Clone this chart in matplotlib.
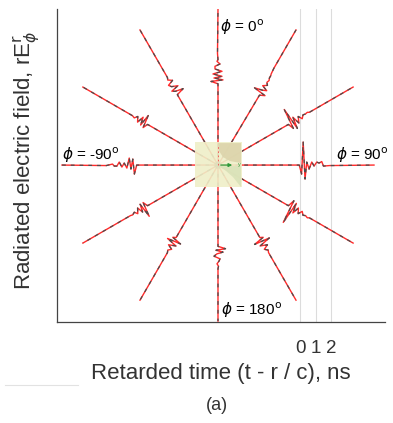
import numpy as np
import matplotlib.pyplot as plt
from matplotlib.patches import Rectangle, Polygon
from matplotlib.lines import Line2D

plt.rcParams['font.family'] = ['Liberation Sans', 'DejaVu Sans']
plt.rcParams['mathtext.fontset'] = 'dejavusans'

# retarded time knots (ns) shared by every ray, star centre sits at t = -5.26
t_knots = [-5.26, -0.05, 0.1, 0.2, 0.32, 0.43, 0.58, 0.75, 0.9, 1.07, 1.22, 1.39, 1.5, 1.9, 4.74]

# field amplitude (a.u.) at each knot, one list per observation angle phi
wave_phi0 = [0, 0, 7, -5, 4, -4, 5, -4, 3, 3, -2, 1, 0, 0.5, 0]
wave_phi30 = [0, -1, -6, 7, -1, -5, 1, -3, -1, -2, -1, -1, -0.5, 0, 0]
wave_phi60 = [0, 0, -6, 15, -8, 4, -4, 2, -2, 1, 0.5, 1, 0, 0, 0]
wave_phi90 = [0, 0, -9, 23, -14, 3, -4, 3, -1, 3, 2, 3.5, -1, -0.5, 0]
wave_phi120 = [0, 0, 7, -17, 6, -4, 3, -2, 2, -1, 0, -1, 0, 0, 0]
wave_phi150 = [0, 0, 0, 3, -8, 8, -4, 3, -2, 1, 0, 0, 0, 0, 0]
wave_phi180 = [0, 0, 7.5, -2, 5, -1, -4, 2, 1, -1, 0.5, 0, 0, 0, 0]
wave_phim150 = [0, 0, 0, -3, 7, -7, 4, -3, 2, -1, 0, 0, 0, 0, 0]
wave_phim120 = [0, 0, -5, 10, -5, 3, -3, 2, -1, 0.5, 0, 0, 0, 0, 0]
wave_phim90 = [0, 0, 9, -6, 4, -7, 3, -2, 2, -3, 1, 1, -1, 0.5, 0]
wave_phim60 = [0, 0, 5, -8, 4, -4, 3, -2, 1, 0, 0, 0, 0, 0, 0]
wave_phim30 = [0, 0, -8, 0, 3, -5, 1, 3, -3, 1, 0, 0, 0, 0, 0]

phis = [0, 30, 60, 90, 120, 150, 180, -150, -120, -90, -60, -30]
waves = [wave_phi0, wave_phi30, wave_phi60, wave_phi90, wave_phi120, wave_phi150,
         wave_phi180, wave_phim150, wave_phim120, wave_phim90, wave_phim60, wave_phim30]

time_ticks = [0, 1, 2]
phi_labels = ['0', '-90', '90', '180']

W, H = 393, 423
PX = 15.6          # pixels per ns
tc = -5.26         # centre of star
amp_scale = 1 / PX

fig = plt.figure(figsize=(W / 100, H / 100), dpi=100)
ax = fig.add_axes([57 / W, 1 - 322 / H, 328 / W, 313 / H])
ax.set_xlim(-15.58, -15.58 + 328 / PX)
ax.set_ylim(-10.06, -10.06 + 313 / PX)

t = np.array(t_knots)
r = t - tc
for phi, w in zip(phis, waves):
    a = np.deg2rad(90 - phi)
    amp = np.array(w) * amp_scale
    x = tc + r * np.cos(a) - amp * np.sin(a)
    y = r * np.sin(a) + amp * np.cos(a)
    ax.plot(x, y, color='#ff2a2a', lw=1.0, zorder=3)
    ax.plot(x, y, color='#4d4d4d', lw=0.9, ls=(0, (3, 4)), zorder=4)

# inset sketch in the middle
def c(dx, dy):
    return (tc + dx / PX, dy / PX)

ax.add_patch(Rectangle(c(-23, -22), 47 / PX, 45 / PX, facecolor='#efefc8',
                       edgecolor='none', alpha=0.9, zorder=5))
ax.add_patch(Polygon([c(0, 22), c(23, 22), c(23, 2), c(12, 4), c(5, 8), c(1, 14)],
                     facecolor='#dcd4ab', edgecolor='none', alpha=0.9, zorder=6))
ax.add_patch(Polygon([c(0, -1), c(23, -1), c(23, -22), c(15, -12), c(7, -5), c(2, -2)],
                     facecolor='#d9e2b8', edgecolor='none', alpha=0.9, zorder=6))
ax.plot([tc, tc], [0, 20 / PX], color='#f05050', lw=0.6, ls=(0, (2, 3)), zorder=7)
ax.annotate('', xy=c(17, 0), xytext=c(0, 0),
            arrowprops=dict(arrowstyle='-|>', color='#2e9a3a', lw=0.9,
                            mutation_scale=5), zorder=8)
ax.text(*c(21, 1), 'y', color='#2e9a3a', fontsize=4, ha='center', va='center', zorder=8)

ax.set_xticks(time_ticks)
ax.set_xticklabels([str(v) for v in time_ticks], fontsize=13.5, color='#333333')
ax.tick_params(axis='x', length=0, pad=13)
ax.set_yticks([])
ax.grid(axis='x', color='#dcdcdc', lw=0.8)
ax.set_axisbelow(True)
for s in ['top', 'right']:
    ax.spines[s].set_visible(False)
for s in ['left', 'bottom']:
    ax.spines[s].set_color('#444444')
    ax.spines[s].set_linewidth(0.9)

ax.set_xlabel('Retarded time (t - r / c), ns', fontsize=16, color='#333333', labelpad=4)
fig.text(27 / W, 1 - 160 / H, r'Radiated electric field, rE$^{\mathrm{r}}_{\phi}$',
         rotation=90, fontsize=16, color='#333333', ha='center', va='center')

# phi labels
lab_pos = [(220, 27), (62, 155), (336, 155), (221, 310)]
for lab, (px, py) in zip(phi_labels, lab_pos):
    fig.text(px / W, 1 - py / H, r'$\phi$ = ' + lab + r'$^{\mathrm{o}}$',
             fontsize=11, ha='left', va='center')

fig.text(217 / W, 1 - 405 / H, '(a)', fontsize=13, ha='center', va='center', color='#333333')
fig.add_artist(Line2D([5 / W, 78 / W], [1 - 385 / H, 1 - 385 / H], color='#e2e2e2', lw=0.8))

fig.savefig('out.png', dpi=100)
